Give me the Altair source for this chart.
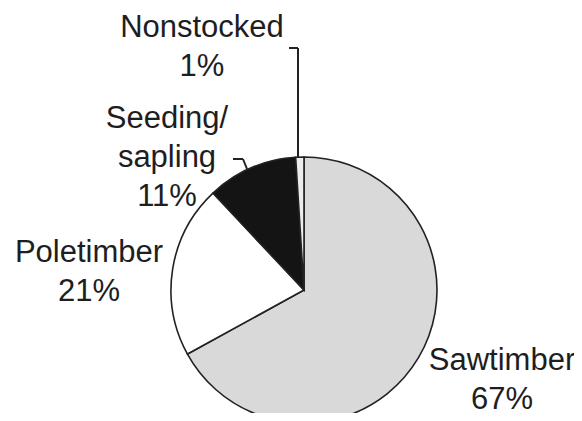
import altair as alt
import pandas as pd

# ---- data ----
categories = ["Sawtimber", "Poletimber", "Seeding/\nsapling", "Nonstocked"]
percents = [67, 21, 11, 1]
colors = ["#d9d9d9", "#ffffff", "#141414", "#ececec"]

# ---- layout (chart coords, page minus 8px margin) ----
CX, CY, R = 296, 282, 133
label_anchor = {  # x center, baseline of first line
    "Sawtimber": (494, 362),
    "Poletimber": (81, 254),
    "Seeding/\nsapling": (159, 120),
    "Nonstocked": (194, 29),
}
LINE_H = 39
leaders = [
    # Nonstocked
    (281, 40, 290, 40),
    (290, 40, 290, 150),
    # Seeding/sapling
    (225, 151, 235, 151),
    (235, 151, 239, 161),
]

pie_df = pd.DataFrame({
    "category": categories,
    "value": percents,
    "order": list(range(len(categories))),
})

rows = []
for cat, p in zip(categories, percents):
    x0, y0 = label_anchor[cat]
    lines = cat.split("\n") + [f"{p}%"]
    for i, line in enumerate(lines):
        rows.append({"text": line, "x": x0, "y": y0 + i * LINE_H})
label_df = pd.DataFrame(rows)

lead_df = pd.DataFrame(leaders, columns=["x", "y", "x2", "y2"])

pie = alt.Chart(pie_df).mark_arc(
    outerRadius=R, stroke="#222222", strokeWidth=1.6
).encode(
    theta=alt.Theta("value:Q", stack=True),
    order=alt.Order("order:Q"),
    color=alt.Color("category:N",
                    scale=alt.Scale(domain=categories, range=colors),
                    legend=None),
    x=alt.value(CX),
    y=alt.value(CY),
)

labels = alt.Chart(label_df).mark_text(
    font="Liberation Sans", fontSize=31, color="#1e1e1e",
    align="center", baseline="alphabetic",
).encode(
    x=alt.X("x:Q", scale=None),
    y=alt.Y("y:Q", scale=None),
    text="text:N",
)

lines = alt.Chart(lead_df).mark_rule(color="#222222", strokeWidth=2).encode(
    x=alt.X("x:Q", scale=None),
    y=alt.Y("y:Q", scale=None),
    x2="x2:Q",
    y2="y2:Q",
)

chart = alt.layer(pie, lines, labels).properties(
    width=566, height=405, padding=0,
    autosize=alt.AutoSizeParams(type="none"),
    background="#ffffff",
).configure_view(stroke=None)

chart.save("out.html", embed_options={"renderer": "svg", "actions": False})
